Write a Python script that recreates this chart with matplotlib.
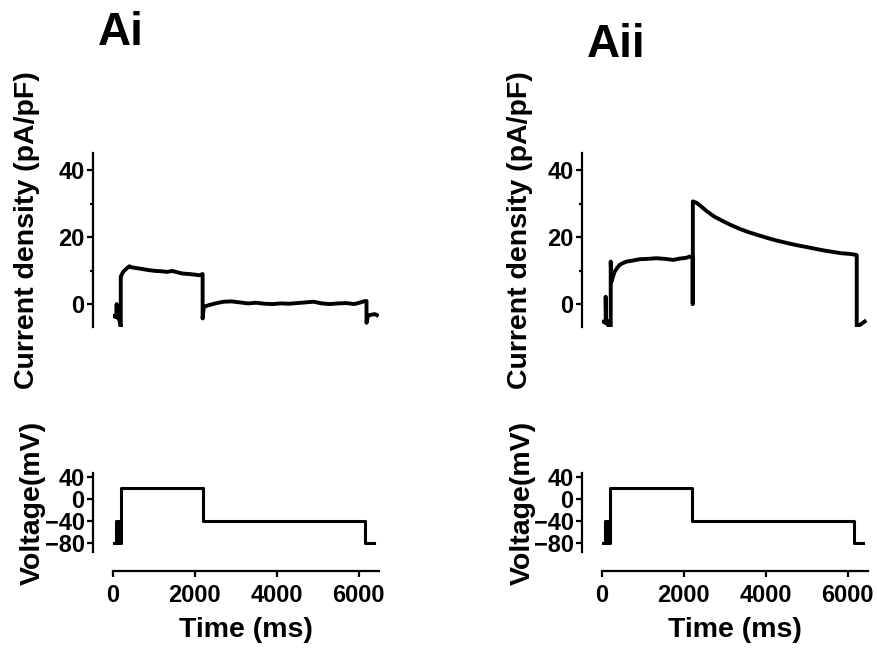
import matplotlib
matplotlib.use("Agg")
import matplotlib.pyplot as plt
from matplotlib.ticker import MultipleLocator

plt.rcParams['font.family'] = ['Liberation Sans', 'DejaVu Sans']
plt.rcParams['font.weight'] = 'bold'

# corrente do painel Ai (ms, pA/pF)
tempoAi = [0, 50, 80, 90, 100, 150, 190, 190, 220, 260, 330, 400, 450, 550, 650, 800,
           900, 1050, 1200, 1310, 1450, 1600, 1715, 1850, 2000, 2120, 2190, 2190, 2220,
           2350, 2500, 2700, 2900, 3100, 3300, 3500, 3700, 3900, 4100, 4300, 4500, 4700,
           4900, 5100, 5300, 5500, 5700, 5900, 6050, 6150, 6195, 6195, 6230, 6300, 6400, 6450]
correnteAi = [-3.5, -3.8, -3.0, 0.0, -4.0, -4.5, -6.8, 8.2, 9.0, 9.8, 10.6, 11.3, 11.0, 10.8,
              10.6, 10.3, 10.1, 9.9, 9.8, 9.6, 9.9, 9.4, 9.1, 9.0, 8.8, 8.6, 9.0, -4.3, -0.8,
              -0.3, 0.2, 0.7, 0.8, 0.5, 0.2, 0.4, 0.1, 0.0, 0.2, 0.1, 0.3, 0.5, 0.7, 0.2, 0.0,
              0.2, 0.3, 0.0, 0.5, 0.9, 0.9, -5.6, -3.5, -3.2, -3.0, -3.3]

# corrente do painel Aii
tempoAii = [30, 90, 90, 100, 155, 160, 213, 213, 230, 270, 310, 370, 430, 520, 600, 750,
            920, 1100, 1330, 1550, 1740, 1900, 2050, 2150, 2213, 2213, 2220, 2220, 2320,
            2450, 2565, 2750, 2970, 3170, 3380, 3580, 3790, 4000, 4200, 4400, 4610, 4800,
            5020, 5220, 5430, 5640, 5840, 6050, 6210, 6225, 6225, 6340, 6420]
correnteAii = [-5.3, -5.5, 2.2, -5.8, -5.0, -6.8, -6.8, 12.7, 6.7, 8.3, 9.7, 10.8, 11.7, 12.3,
               12.7, 13.0, 13.4, 13.5, 13.7, 13.5, 13.2, 13.6, 13.8, 14.2, 14.0, 0.0, 0.0,
               30.7, 30.2, 28.9, 27.7, 26.1, 24.7, 23.5, 22.4, 21.5, 20.7, 19.9, 19.2, 18.6,
               18.0, 17.5, 17.0, 16.5, 16.0, 15.6, 15.2, 15.0, 14.7, 14.6, -6.8, -5.9, -5.2]

# protocolo de voltagem (degraus)
tempoV = [0, 80, 100, 120, 140, 160, 180, 205, 2195, 6170, 6380]
voltV = [-80, -40, -80, -40, -80, -40, -80, 20, -40, -80, -80]

W, H = 877, 651
fig = plt.figure(figsize=(W / 100, H / 100), dpi=100)

# titulo, x do eixo, dados, posicao do titulo, x dos rotulos
paineis = [("Ai", 113, tempoAi, correnteAi, 98, 45, 27, 33),
           ("Aii", 602, tempoAii, correnteAii, 587, 57, 520, 523)]

for titulo, x0, tempo, corrente, tx, ty, lx1, lx2 in paineis:
    # corrente
    ax1 = fig.add_axes([x0 / W, 1 - 327.5 / H, 266 / W, 174 / H])
    ax1.plot(tempo, corrente, color='black', lw=2.8)
    ax1.set_xlim(0, 6500)
    ax1.set_ylim(-7, 45)
    ax1.set_yticks([0, 20, 40])
    ax1.yaxis.set_minor_locator(MultipleLocator(10))
    for s in ['top', 'right', 'bottom']:
        ax1.spines[s].set_visible(False)
    ax1.spines['left'].set_position(('outward', 14.4))
    ax1.spines['left'].set_linewidth(1.6)
    ax1.set_xticks([])
    ax1.tick_params(axis='y', which='major', length=4, width=1.6, labelsize=17, pad=2)
    ax1.tick_params(axis='y', which='minor', length=2.5, width=1.6)

    # voltagem
    ax2 = fig.add_axes([x0 / W, 1 - 552.4 / H, 266 / W, 79.8 / H])
    ax2.plot(tempoV, voltV, color='black', lw=2.2, drawstyle='steps-post')
    ax2.set_xlim(0, 6500)
    ax2.set_ylim(-97, 48)
    ax2.set_yticks([40, 0, -40, -80])
    ax2.set_xticks([0, 2000, 4000, 6000])
    for s in ['top', 'right']:
        ax2.spines[s].set_visible(False)
    ax2.spines['left'].set_position(('outward', 14.4))
    ax2.spines['bottom'].set_position(('outward', 13.7))
    ax2.spines['left'].set_linewidth(1.6)
    ax2.spines['bottom'].set_linewidth(1.6)
    ax2.tick_params(axis='both', length=4, width=1.6, labelsize=17, pad=2)
    ax2.tick_params(axis='x', pad=5)
    for lab in ax1.get_yticklabels() + ax2.get_yticklabels() + ax2.get_xticklabels():
        lab.set_fontweight('bold')

    fig.text(tx / W, 1 - ty / H, titulo, fontsize=33, fontweight='bold', ha='left', va='baseline')
    fig.text(lx1 / W, 1 - 230 / H, 'Current density (pA/pF)', rotation=90, fontsize=20.5,
             fontweight='bold', ha='center', va='center')
    fig.text(lx2 / W, 1 - 503 / H, 'Voltage(mV)', rotation=90,
             fontsize=20.5, fontweight='bold', ha='center', va='center')
    fig.text((x0 + 133) / W, 1 - 630 / H, 'Time (ms)', fontsize=20.5, fontweight='bold',
             ha='center', va='center')

fig.savefig('out.png', dpi=100)
